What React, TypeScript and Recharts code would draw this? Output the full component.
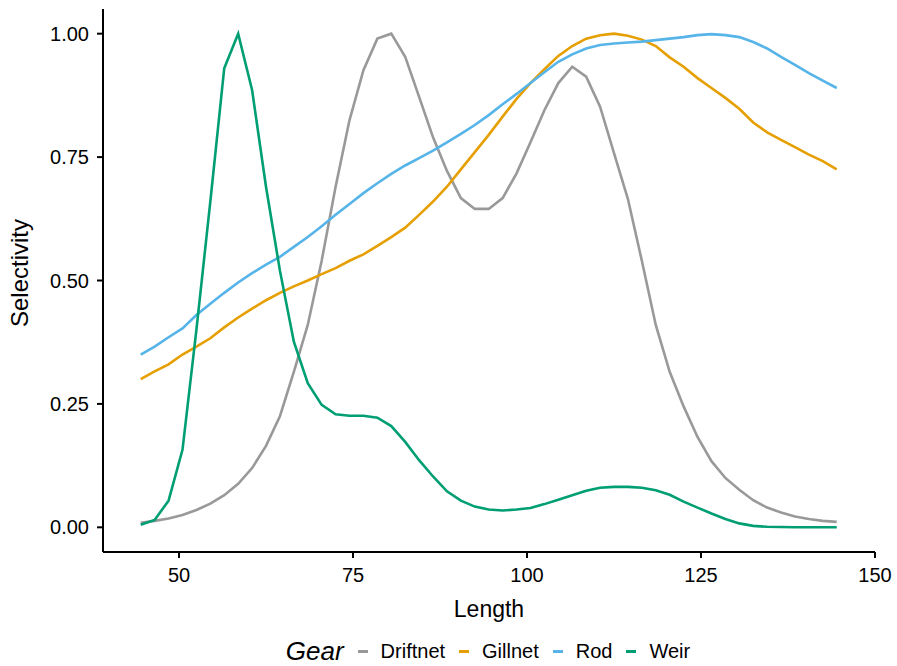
import React from 'react';
import { LineChart, Line, XAxis, YAxis, Legend } from 'recharts';

const lengths = [
  44.5, 46.5, 48.5, 50.5, 52.5, 54.5, 56.5, 58.5, 60.5, 62.5,
  64.5, 66.5, 68.5, 70.5, 72.5, 74.5, 76.5, 78.5, 80.5, 82.5,
  84.5, 86.5, 88.5, 90.5, 92.5, 94.5, 96.5, 98.5, 100.5, 102.5,
  104.5, 106.5, 108.5, 110.5, 112.5, 114.5, 116.5, 118.5, 120.5, 122.5,
  124.5, 126.5, 128.5, 130.5, 132.5, 134.5, 136.5, 138.5, 140.5, 142.5,
  144.5,
];

const driftnet = [
  0.009, 0.013, 0.018, 0.025, 0.035, 0.048, 0.065, 0.088, 0.12, 0.165,
  0.225, 0.315, 0.41, 0.54, 0.69, 0.825, 0.926, 0.99, 1.0, 0.953,
  0.872, 0.79, 0.722, 0.667, 0.645, 0.645, 0.667, 0.717, 0.78, 0.845,
  0.9, 0.933, 0.913, 0.852, 0.758, 0.665, 0.54, 0.41, 0.315, 0.245,
  0.183, 0.134, 0.1, 0.076, 0.055, 0.04, 0.03, 0.022, 0.017, 0.013,
  0.011,
];

const gillnet = [
  0.3, 0.316, 0.33, 0.35, 0.366, 0.383, 0.405, 0.425, 0.443, 0.46,
  0.475, 0.488, 0.5, 0.513, 0.525, 0.54, 0.553, 0.57, 0.588, 0.607,
  0.633, 0.66, 0.69, 0.725, 0.76, 0.795, 0.832, 0.868, 0.9, 0.928,
  0.955, 0.975, 0.99, 0.997, 1.0, 0.996, 0.988, 0.975, 0.952, 0.933,
  0.91, 0.89, 0.87, 0.848, 0.82, 0.8, 0.785, 0.77, 0.755, 0.742,
  0.725,
];

const rod = [
  0.35, 0.366, 0.385, 0.403, 0.43, 0.453, 0.475, 0.496, 0.515, 0.532,
  0.548, 0.568, 0.588, 0.61, 0.633, 0.655, 0.677, 0.697, 0.716, 0.733,
  0.748, 0.763, 0.78, 0.797, 0.815, 0.835, 0.857, 0.878, 0.9, 0.922,
  0.943, 0.958, 0.97, 0.977, 0.98, 0.982, 0.984, 0.987, 0.99, 0.993,
  0.997, 0.999, 0.997, 0.993, 0.983, 0.97, 0.953, 0.937, 0.92, 0.905,
  0.89,
];

const weir = [
  0.005, 0.015, 0.054, 0.157, 0.4, 0.66, 0.93, 1.0, 0.886, 0.69,
  0.52, 0.376, 0.292, 0.248, 0.229, 0.226, 0.226, 0.222, 0.205, 0.173,
  0.136, 0.103, 0.073, 0.054, 0.042, 0.036, 0.034, 0.036, 0.039, 0.047,
  0.056, 0.065, 0.074, 0.08, 0.082, 0.082, 0.08, 0.075, 0.066, 0.052,
  0.04, 0.028, 0.017, 0.008, 0.003, 0.001, 0.0005, 0, 0, 0,
  0,
];

const xTicks = [50, 75, 100, 125, 150];
const yTicks = [0, 0.25, 0.5, 0.75, 1.0];

const seriesNames = ['Driftnet', 'Gillnet', 'Rod', 'Weir'];
const seriesColors = ['#999999', '#E69F00', '#56B4E9', '#009E73'];
const seriesValues = [driftnet, gillnet, rod, weir];

const data = lengths.map((len, i) => {
  const row: Record<string, number> = { length: len };
  seriesNames.forEach((name, s) => {
    row[name] = seriesValues[s][i];
  });
  return row;
});

const FONT = '"Liberation Sans", Arial, Helvetica, sans-serif';

const XTitle = (props: any) => {
  const vb = props.viewBox || {};
  return (
    <text
      x={vb.x + vb.width / 2}
      y={vb.y + 65}
      textAnchor="middle"
      fontSize={23}
      fontFamily={FONT}
      fill="#000"
    >
      Length
    </text>
  );
};

const YTitle = (props: any) => {
  const vb = props.viewBox || {};
  const cx = vb.x + 28;
  const cy = 273;
  return (
    <text
      x={cx}
      y={cy}
      transform={`rotate(-90 ${cx} ${cy})`}
      textAnchor="middle"
      fontSize={24}
      fontFamily={FONT}
      fill="#000"
    >
      Selectivity
    </text>
  );
};

const renderLegend = () => (
  <div
    style={{
      display: 'flex',
      justifyContent: 'center',
      alignItems: 'center',
      height: 30,
      width: 897,
      boxSizing: 'border-box',
      paddingLeft: 79,
      fontFamily: FONT,
      color: '#000',
    }}
  >
    <span style={{ fontStyle: 'italic', fontSize: 26, marginRight: 14 }}>Gear</span>
    {seriesNames.map((name, i) => (
      <span key={name} style={{ display: 'flex', alignItems: 'center', marginRight: i < seriesNames.length - 1 ? 14 : 0 }}>
        <span
          style={{
            display: 'inline-block',
            width: 10,
            height: 3,
            background: seriesColors[i],
            marginRight: 13,
          }}
        />
        <span style={{ fontSize: 20 }}>{name}</span>
      </span>
    ))}
  </div>
);

export default function App() {
  return (
    <div style={{ position: 'absolute', left: 0, top: 0, width: 897, height: 666, background: '#fff' }}>
      <LineChart
        width={897}
        height={666}
        data={data}
        margin={{ top: 9, right: 22, left: 0, bottom: 0 }}
      >
        <XAxis
          dataKey="length"
          type="number"
          domain={[39.08, 150]}
          ticks={xTicks}
          allowDataOverflow
          height={84}
          tickSize={6}
          tickMargin={10}
          axisLine={{ stroke: '#000', strokeWidth: 2 }}
          tickLine={{ stroke: '#000', strokeWidth: 2 }}
          tick={{ fill: '#000', fontSize: 20, fontFamily: FONT }}
          label={{ content: XTitle }}
        />
        <YAxis
          type="number"
          domain={[-0.05, 1.05]}
          ticks={yTicks}
          allowDataOverflow
          width={103}
          tickSize={6}
          tickMargin={8}
          tickFormatter={(v: number) => v.toFixed(2)}
          axisLine={{ stroke: '#000', strokeWidth: 2 }}
          tickLine={{ stroke: '#000', strokeWidth: 2 }}
          tick={{ fill: '#000', fontSize: 20, fontFamily: FONT }}
          label={{ content: YTitle }}
        />
        <Legend
          verticalAlign="bottom"
          align="center"
          content={renderLegend}
          wrapperStyle={{ left: 0, width: 897, bottom: 0 }}
        />
        {seriesNames.map((name, i) => (
          <Line
            key={name}
            type="linear"
            dataKey={name}
            stroke={seriesColors[i]}
            strokeWidth={2.6}
            dot={false}
            activeDot={false}
            isAnimationActive={false}
          />
        ))}
      </LineChart>
    </div>
  );
}
